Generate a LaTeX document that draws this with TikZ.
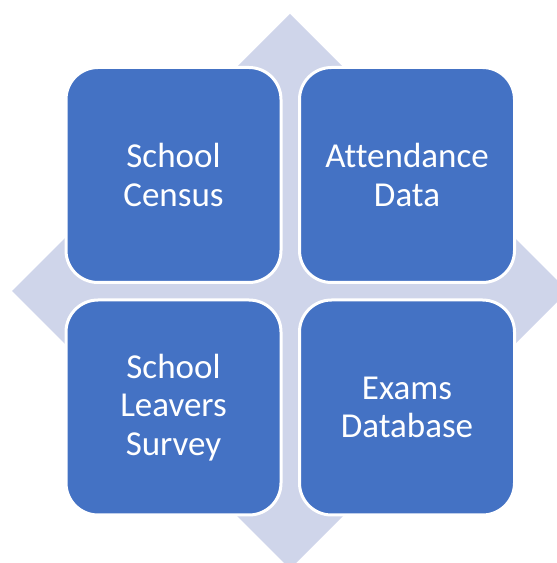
\documentclass[tikz,border=0pt]{standalone}
\usepackage{fontspec}
\setmainfont{Carlito}[Ligatures=NoCommon]
\definecolor{boxblue}{HTML}{4472C4}
\definecolor{lav}{HTML}{CFD5EA}
\begin{document}
\begin{tikzpicture}[x=1pt,y=1pt,
  quad/.style={draw=white,line width=3pt,fill=boxblue,rounded corners=32pt,
    minimum width=215pt,minimum height=215pt,inner sep=0pt,
    text=white,align=center,font=\fontsize{35}{38.5}\selectfont}]
\useasboundingbox (0,0) rectangle (557,563);
\begin{scope}
\clip (0,0) rectangle (557,563);
\fill[lav] (290,549) -- (568,272) -- (290,-6) -- (12,272) -- cycle;
\end{scope}
\node[quad] (census) at (173.5,388) {School\\Census};
\node[quad] (attend) at (407,388) {Attendance\\Data};
\node[quad] (leavers) at (173.5,155.5) {School\\Leavers\\Survey};
\node[quad] (exams) at (407,155.5) {Exams\\Database};
\end{tikzpicture}
\end{document}
